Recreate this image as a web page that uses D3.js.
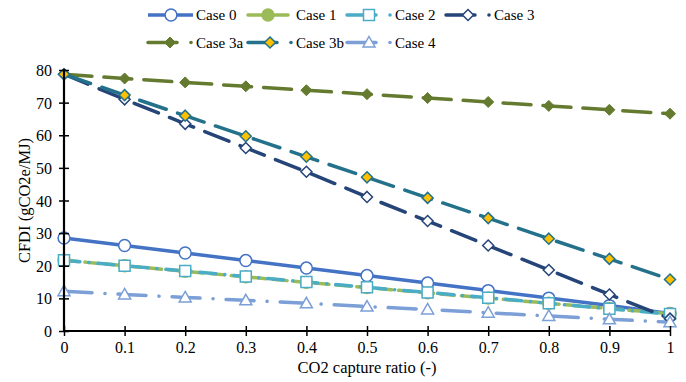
<!DOCTYPE html>
<html><head><meta charset="utf-8">
<script src="https://cdn.jsdelivr.net/npm/d3@7"></script>
<style>body{margin:0;background:#fff}svg{display:block}</style>
</head><body><svg id="c" width="686" height="382"></svg>
<script>
const xVals = [0,0.1,0.2,0.3,0.4,0.5,0.6,0.7,0.8,0.9,1];
const xTicks = [0,0.1,0.2,0.3,0.4,0.5,0.6,0.7,0.8,0.9,1];
const yTicks = [0,10,20,30,40,50,60,70,80];
const seriesNames = ["Case 0","Case 1","Case 2","Case 3","Case 3a","Case 3b","Case 4"];
const case0  = [28.5,26.2,23.9,21.6,19.3,17.0,14.7,12.4,10.1,7.8,5.4];
const case1  = [21.7,20.0,18.3,16.6,14.9,13.3,11.7,10.1,8.5,6.9,5.3];
const case2  = [21.7,20.0,18.4,16.7,15.0,13.4,11.8,10.2,8.5,6.8,5.2];
const case3  = [78.7,71.0,63.5,56.1,48.8,41.1,33.7,26.2,18.7,11.2,3.8];
const case3a = [78.7,77.4,76.2,75.0,73.8,72.6,71.4,70.2,69.0,67.8,66.6];
const case3b = [78.7,72.3,66.0,59.7,53.4,47.1,40.8,34.6,28.3,22.1,15.8];
const case4  = [12.2,11.2,10.3,9.4,8.5,7.5,6.6,5.6,4.6,3.6,2.7];
const values = [case0,case1,case2,case3,case3a,case3b,case4];

const FONT = "'Liberation Serif','Times New Roman','DejaVu Serif',serif";

const styles = [
  {color:"#4472C4", dash:null, marker:"circle", fill:"#fff"},
  {color:"#9BBB59", dash:"14,7", marker:"circle", fill:"#9BBB59"},
  {color:"#4BACC6", dash:"16,9,0.1,9", marker:"square", fill:"#fff"},
  {color:"#254478", dash:"26,12", marker:"diamond", fill:"#fff"},
  {color:"#637A2F", dash:"28,12", marker:"diamond", fill:"#637A2F"},
  {color:"#23718A", dash:"28,12", marker:"diamond", fill:"#FFC000"},
  {color:"#7B9FD6", dash:"28,13,0.1,13", marker:"triangle", fill:"#fff"}
];

const svg = d3.select("#c");
const x = d3.scaleLinear().domain([0,1]).range([64,670]);
const y = d3.scaleLinear().domain([0,80]).range([331,70]);

function markerPath(type){
  if(type==="circle") return d3.symbol(d3.symbolCircle, 110)();
  if(type==="square") return "M-5.5,-5.5H5.5V5.5H-5.5Z";
  if(type==="diamond") return "M0,-5.5L5.5,0L0,5.5L-5.5,0Z";
  if(type==="triangle") return "M0,-6L6,4.5H-6Z";
}

const line = d3.line().x((d,i)=>x(xVals[i])).y(d=>y(d));
values.forEach((vals,k)=>{
  const s = styles[k];
  svg.append("path").attr("d", line(vals)).attr("fill","none")
    .attr("stroke", s.color).attr("stroke-width", 3.5)
    .attr("stroke-linecap", s.dash ? "round" : "butt")
    .attr("stroke-dasharray", s.dash);
});
values.forEach((vals,k)=>{
  const s = styles[k];
  svg.append("g").selectAll("path").data(vals).join("path")
    .attr("transform",(d,i)=>`translate(${x(xVals[i])},${y(d)})`)
    .attr("d", markerPath(s.marker))
    .attr("fill", s.fill).attr("stroke", s.color)
    .attr("stroke-width", k===4 ? 1 : 1.5);
});

const yAxis = d3.axisLeft(y).tickValues(yTicks).tickSize(10).tickFormat(d3.format("d"));
const gy = svg.append("g").attr("transform","translate(69,0)").call(yAxis);
gy.select(".domain").remove();
gy.selectAll(".tick line").attr("stroke","#000").attr("stroke-width",1.5);
gy.selectAll(".tick text").attr("x",-17).attr("dy","0.35em")
  .style("font-family",FONT).style("font-size","16px").style("fill","#000");
svg.append("line").attr("x1",64).attr("x2",64).attr("y1",y(80)-1).attr("y2",y(0)+1).attr("stroke","#000").attr("stroke-width",2.2);

const xAxis = d3.axisBottom(x).tickValues(xTicks).tickSize(10).tickFormat(d=>String(d));
const gx = svg.append("g").attr("transform","translate(0,326)").call(xAxis);
gx.select(".domain").remove();
gx.selectAll(".tick line").attr("stroke","#000").attr("stroke-width",1.5);
gx.selectAll(".tick text").attr("y",16)
  .style("font-family",FONT).style("font-size","16px").style("fill","#000");
svg.append("line").attr("x1",63).attr("x2",671).attr("y1",y(0)).attr("y2",y(0)).attr("stroke","#000").attr("stroke-width",2.2);

svg.append("text").attr("x",367).attr("y",373).attr("text-anchor","middle")
  .style("font-family",FONT).style("font-size","16.5px").text("CO2 capture ratio (-)");
svg.append("text").attr("transform","translate(30,200.5) rotate(-90)").attr("text-anchor","middle")
  .style("font-family",FONT).style("font-size","16.5px").text("CFDI (gCO2e/MJ)");

const legPos = [[148,15],[248,15],[347,15],[446,15],[148,42.5],[248,42.5],[347,42.5]];
seriesNames.forEach((name,k)=>{
  const s = styles[k];
  const [lx,ly] = legPos[k];
  const g = svg.append("g");
  const hasDot = k>=2;
  const len = k===0 ? 45 : (k===1 ? 40 : 29);
  const mx = k===0 ? 23 : (k===1 ? 20 : 22);
  g.append("line").attr("x1",lx).attr("x2",lx+len).attr("y1",ly).attr("y2",ly)
    .attr("stroke",s.color).attr("stroke-width",3.5).attr("stroke-linecap", k===0?"butt":"round");
  g.append("path").attr("transform",`translate(${lx+mx},${ly})`).attr("d",markerPath(s.marker))
    .attr("fill",s.fill).attr("stroke",s.color).attr("stroke-width",k===4?1:1.5);
  let tx = lx + 48;
  if(hasDot){
    g.append("circle").attr("cx",lx+43).attr("cy",ly).attr("r",1.8).attr("fill",s.color);
  }
  g.append("text").attr("x",tx).attr("y",ly+5)
    .style("font-family",FONT).style("font-size","15px").style("fill","#000").text(name);
});
</script></body></html>
